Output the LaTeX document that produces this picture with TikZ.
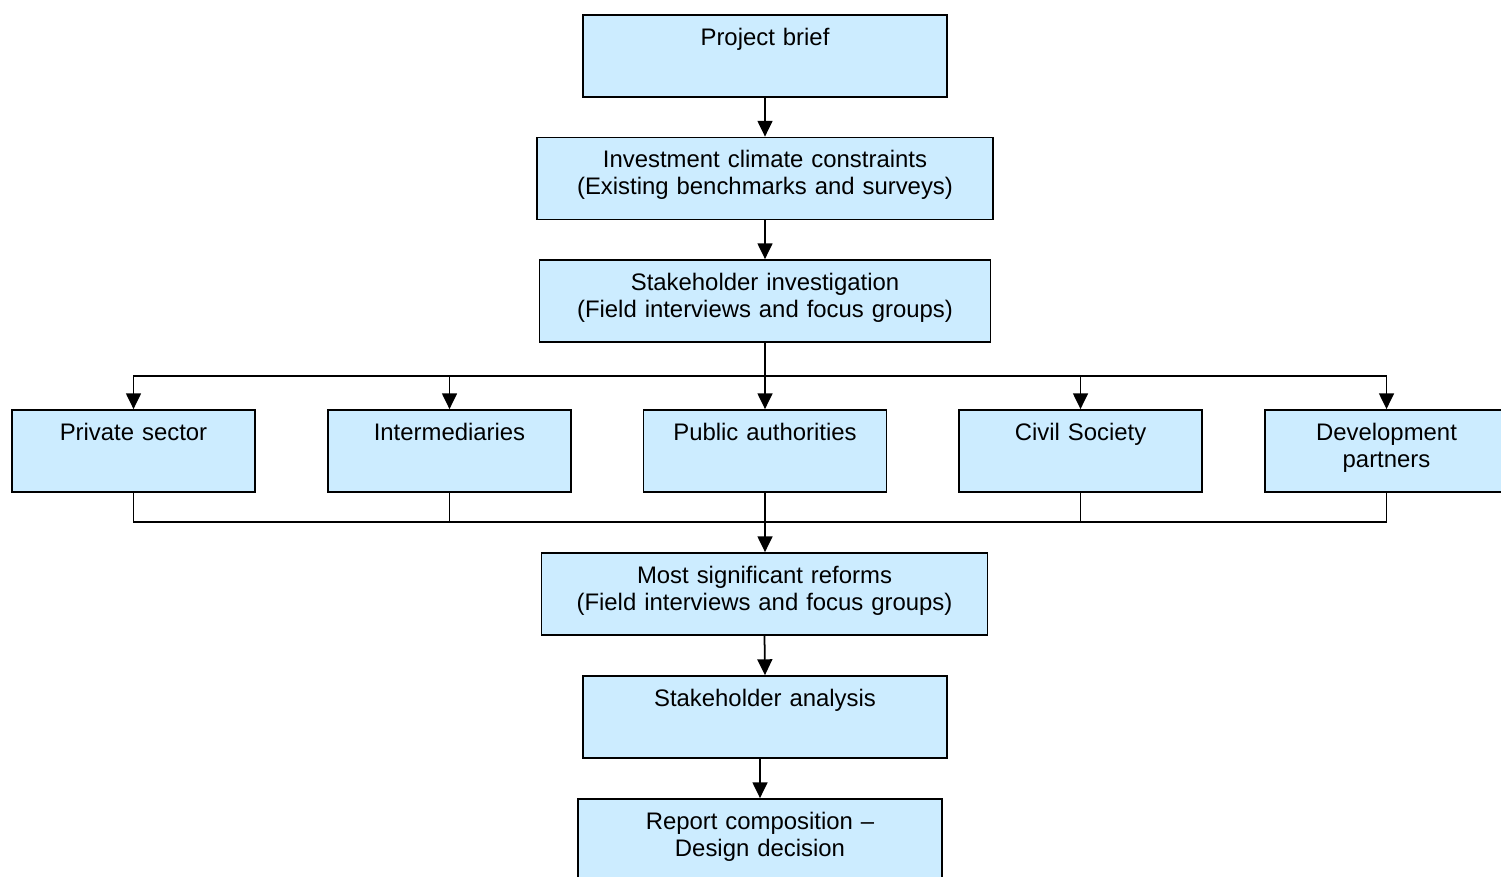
\documentclass[tikz,border=0pt]{standalone}
\usepackage{fontspec}
\setmainfont{Liberation Sans}
\usetikzlibrary{arrows.meta}
\definecolor{boxblue}{RGB}{204,236,255}

\tikzset{
  box/.style={draw, line width=1pt, fill=boxblue, align=center, inner xsep=0pt, inner ysep=0pt,
    text height=0.6cm, text depth=1.04cm, font=\fontsize{13.6}{15.4}\selectfont},
  line/.style={line width=1pt},
  arr/.style={line width=1pt, -{Triangle[length=9pt,width=8.5pt]}}
}

\begin{document}
\begin{tikzpicture}
            \useasboundingbox (0,0) rectangle (30.02,-17.52);

            % main column
            \node[box, text width=7.28cm] (brief) at (15.3,-1.12) {Project brief};
            \node[box, text width=9.12cm] (invest) at (15.3,-3.57) {Investment climate constraints\\(Existing benchmarks and surveys)};
            \node[box, text width=9.02cm] (investig) at (15.3,-6.02) {Stakeholder investigation\\(Field interviews and focus groups)};

            % stakeholder groups
            \node[box, text width=4.86cm] (priv) at (2.67,-9.02) {Private sector};
            \node[box, text width=4.86cm] (inter) at (8.99,-9.02) {Intermediaries};
            \node[box, text width=4.86cm] (public) at (15.3,-9.02) {Public authorities};
            \node[box, text width=4.86cm] (civil) at (21.61,-9.02) {Civil Society};
            \node[box, text width=4.86cm] (devel) at (27.73,-9.02) {Development\\partners};

            % lower column
            \node[box, text width=8.92cm] (reforms) at (15.29,-11.88) {Most significant reforms\\(Field interviews and focus groups)};
            \node[box, text width=7.28cm] (analysis) at (15.3,-14.34) {Stakeholder analysis};
            \node[box, text width=7.28cm] (report) at (15.2,-16.8) {Report composition --\\Design decision};

            % buses
            \coordinate (split) at (15.3,-7.52);
            \coordinate (join) at (15.3,-10.44);

            % arrows
            \draw[arr] (brief) -- (invest);
            \draw[arr] (invest) -- (investig);
            \draw[line] (investig.south) -- (split);
            \foreach \n in {priv,inter,public,civil,devel}
              \draw[arr] (split) -| (\n.north);
            \foreach \n in {priv,inter,civil,devel}
              \draw[line] (\n.south) |- (join);
            \draw[arr] (public.south) -- (public.south |- reforms.north);
            \draw[arr] (reforms.north |- reforms.south) -- (analysis.north);
            \draw[arr] (analysis.south -| report.north) -- (report.north);
        \end{tikzpicture}
\end{document}
